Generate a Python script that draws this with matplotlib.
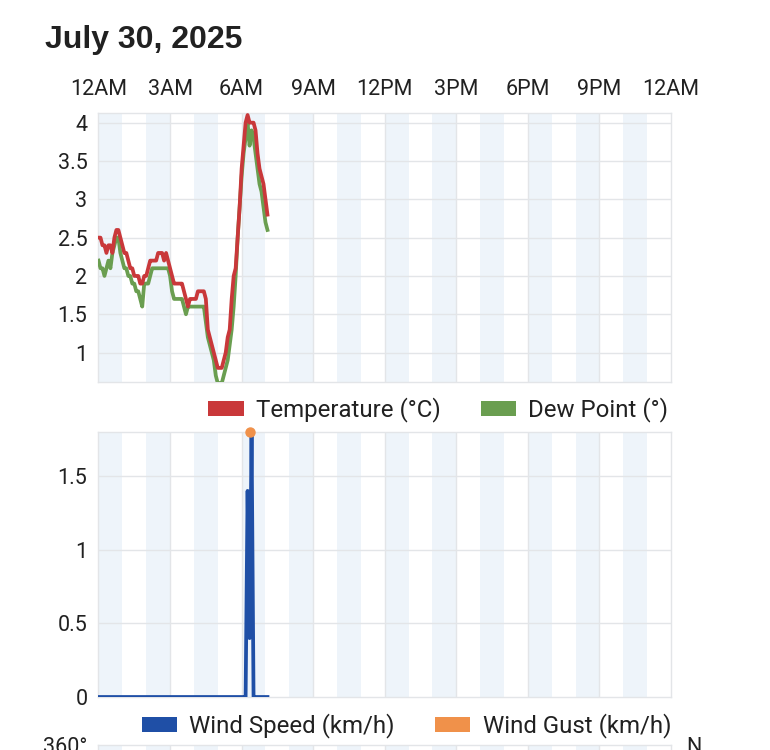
import numpy as np
import matplotlib
matplotlib.use("Agg")
import matplotlib.pyplot as plt
from matplotlib.patches import Patch
from matplotlib.ticker import FuncFormatter

# ---------------- data ----------------
title = "July 30, 2025"
hour_ticks = [0, 3, 6, 9, 12, 15, 18, 21, 24]
hour_labels = ["12AM", "3AM", "6AM", "9AM", "12PM", "3PM", "6PM", "9PM", "12AM"]
sample_minutes = 5  # readings every 5 minutes starting at 12AM

temperature = [
    2.5, 2.5, 2.4, 2.4, 2.3, 2.4, 2.4, 2.3, 2.5, 2.6,
    2.6, 2.5, 2.4, 2.3, 2.3, 2.2, 2.1, 2.1, 2.0, 2.0,
    2.0, 1.9, 1.9, 2.0, 2.0, 2.1, 2.2, 2.2, 2.2, 2.2,
    2.3, 2.3, 2.3, 2.2, 2.3, 2.2, 2.1, 2.0, 1.9, 1.9,
    1.9, 1.9, 1.9, 1.8, 1.7, 1.6, 1.7, 1.7, 1.7, 1.7,
    1.8, 1.8, 1.8, 1.8, 1.7, 1.3, 1.2, 1.1, 1.0, 0.9,
    0.8, 0.8, 0.8, 0.9, 1.0, 1.2, 1.3, 1.7, 2.0, 2.1,
    2.5, 2.9, 3.4, 3.7, 4.0, 4.1, 4.0, 4.0, 4.0, 3.9,
    3.6, 3.4, 3.3, 3.2, 3.0, 2.8,
]
dew_point = [
    2.2, 2.1, 2.1, 2.0, 2.1, 2.2, 2.1, 2.3, 2.4, 2.5,
    2.5, 2.3, 2.2, 2.1, 2.1, 2.0, 2.0, 1.9, 1.9, 1.8,
    1.8, 1.7, 1.6, 1.9, 1.9, 1.9, 2.0, 2.1, 2.1, 2.1,
    2.1, 2.1, 2.1, 2.1, 2.1, 2.1, 2.0, 1.8, 1.7, 1.7,
    1.7, 1.7, 1.7, 1.6, 1.5, 1.6, 1.6, 1.6, 1.6, 1.6,
    1.6, 1.6, 1.6, 1.6, 1.4, 1.2, 1.1, 1.0, 0.9, 0.7,
    0.6, 0.6, 0.6, 0.7, 0.8, 0.9, 1.1, 1.3, 1.6, 2.0,
    2.5, 2.9, 3.3, 3.6, 3.8, 4.0, 3.7, 3.9, 3.8, 3.6,
    3.4, 3.2, 3.1, 2.9, 2.7, 2.6,
]
wind_speed = [
    0, 0, 0, 0, 0, 0, 0, 0, 0, 0,
    0, 0, 0, 0, 0, 0, 0, 0, 0, 0,
    0, 0, 0, 0, 0, 0, 0, 0, 0, 0,
    0, 0, 0, 0, 0, 0, 0, 0, 0, 0,
    0, 0, 0, 0, 0, 0, 0, 0, 0, 0,
    0, 0, 0, 0, 0, 0, 0, 0, 0, 0,
    0, 0, 0, 0, 0, 0, 0, 0, 0, 0,
    0, 0, 0, 0, 0, 1.4, 0.4, 1.8, 0, 0,
    0, 0, 0, 0, 0, 0,
]
gust_minutes = [380]
wind_gust = [1.8]

# ---------------- style ----------------
RED = "#C9383A"
GREEN = "#6A9E50"
BLUE = "#1F4FA6"
ORANGE = "#F0914A"
BAND = "#EEF4FA"
GRID = "#E3E5E8"
TXT = "#212121"
TICK_FONT = ["Roboto", "DejaVu Sans"]
plt.rcParams["font.family"] = TICK_FONT
LW = 2.7
TICK_SIZE = 15.5
LEG_SIZE = 17.3

W, H = 770, 750
fig = plt.figure(figsize=(W / 100, H / 100), dpi=100)
fig.patch.set_facecolor("white")


def fx(px):
    return px / W


L, R = 98.5, 671.0
ax1 = fig.add_axes([fx(L), 1 - 381.7 / H, fx(R - L), (381.7 - 112.7) / H])
ax2 = fig.add_axes([fx(L), 1 - 697.0 / H, fx(R - L), (697.0 - 432.0) / H])
ax3 = fig.add_axes([fx(L), 1 - 745.0 / H - 0.3, fx(R - L), 0.3])

hours_t = np.arange(len(temperature)) * sample_minutes / 60.0
hours_w = np.arange(len(wind_speed)) * sample_minutes / 60.0
hours_g = np.array(gust_minutes) / 60.0


def style(ax, yticks):
    ax.set_xlim(0, 24)
    for h in range(0, 24, 2):
        ax.axvspan(h, h + 1, color=BAND, lw=0, zorder=0)
    for h in hour_ticks[1:-1]:
        ax.axvline(h, color=GRID, lw=1.0, zorder=1)
    for y in yticks:
        ax.axhline(y, color=GRID, lw=1.0, zorder=1)
    for s in ax.spines.values():
        s.set_color(GRID)
        s.set_linewidth(1.0)
    ax.set_xticks(hour_ticks)
    ax.set_yticks(yticks)
    ax.yaxis.set_major_formatter(FuncFormatter(lambda v, p: f"{v:g}"))
    ax.tick_params(axis="both", length=0, labelsize=TICK_SIZE, labelcolor=TXT)
    ax.tick_params(axis="y", pad=8.0)


def legend(ax, handles, y_off, x_off):
    leg = ax.legend(
        handles=handles, loc="center right", bbox_to_anchor=(1.0 - x_off, y_off),
        ncol=2, frameon=False, fontsize=LEG_SIZE, handlelength=1.47,
        handleheight=0.63, handletextpad=0.5, columnspacing=1.68,
        borderpad=0, borderaxespad=0)
    for t in leg.get_texts():
        t.set_color(TXT)
    return leg


# --- temperature / dew point ---
style(ax1, [1, 1.5, 2, 2.5, 3, 3.5, 4])
ax1.set_ylim(0.62, 4.13)
ax1.plot(hours_t, dew_point, color=GREEN, lw=LW, zorder=3)
ax1.plot(hours_t, temperature, color=RED, lw=LW, zorder=3)
ax1.xaxis.set_ticks_position("top")
ax1.tick_params(axis="x", labeltop=True, labelbottom=False, pad=9)
ax1.set_xticklabels(hour_labels)
legend(ax1, [Patch(facecolor=RED, lw=0, label="Temperature (°C)"),
             Patch(facecolor=GREEN, lw=0, label="Dew Point (°)")],
       -(410 - 381.7) / 269.0, 3 / 572.5)

# --- wind ---
style(ax2, [0.5, 1, 1.5])
ax2.set_yticks([0, 0.5, 1, 1.5])
ax2.set_ylim(0, 1.8)
ax2.plot(hours_w, wind_speed, color=BLUE, lw=LW, zorder=3)
ax2.plot(hours_g, wind_gust, "o", color=ORANGE, ms=6.5, zorder=4, clip_on=False)
ax2.tick_params(axis="x", labelbottom=False, labeltop=False)
legend(ax2, [Patch(facecolor=BLUE, lw=0, label="Wind Speed (km/h)"),
             Patch(facecolor=ORANGE, lw=0, label="Wind Gust (km/h)")],
       -(726 - 697) / 265.0, 0 / 572.5)

# --- wind direction (cut off at the bottom) ---
style(ax3, [])
ax3.set_ylim(0, 360)
ax3.set_yticks([360])
ax3.set_yticklabels(["360°"])
ax3.tick_params(axis="x", labelbottom=False)
ax3r = ax3.twinx()
ax3r.set_ylim(0, 360)
ax3r.set_yticks([360])
ax3r.set_yticklabels(["N"])
ax3r.tick_params(axis="y", length=0, labelsize=TICK_SIZE, labelcolor=TXT, pad=11)
for s in ax3r.spines.values():
    s.set_visible(False)

fig.text(45 / W, 1 - 48 / H, title, ha="left", va="baseline",
         fontsize=23, fontweight="bold", color=TXT,
         family=["Liberation Sans", "DejaVu Sans"])

fig.savefig("out.png", dpi=100, facecolor="white")
